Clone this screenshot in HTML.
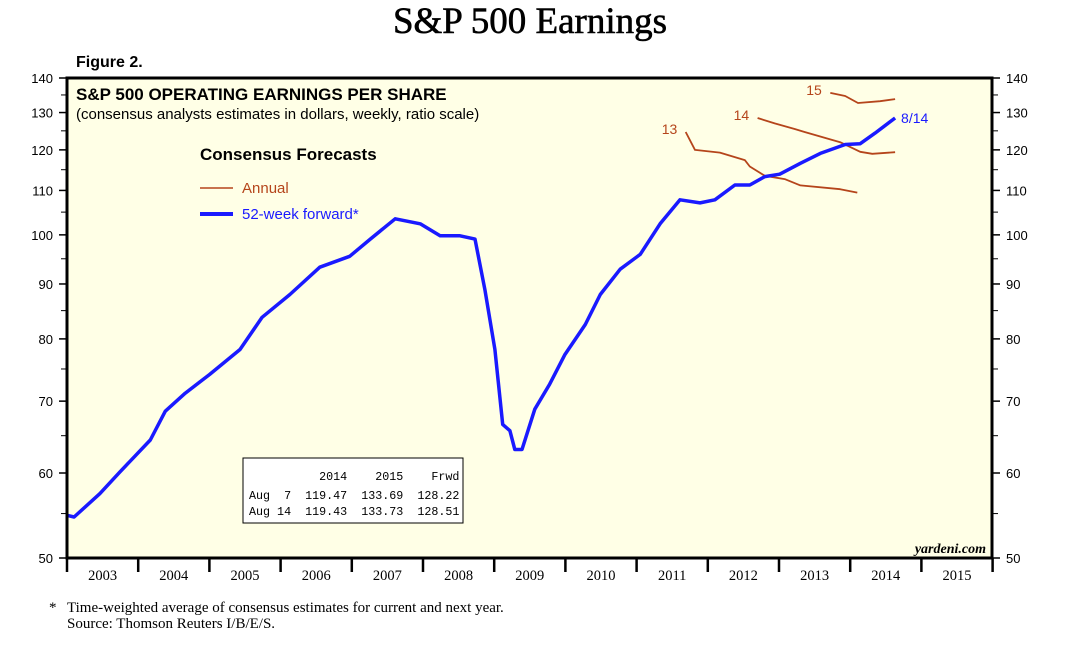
<!DOCTYPE html>
<html><head><meta charset="utf-8"><style>
body{margin:0;background:#fff;width:1073px;height:652px;overflow:hidden}
svg{display:block}
text{font-family:"Liberation Sans",sans-serif}
</style></head><body>
<svg id="chart" width="1073" height="652">
<text x="530" y="33" text-anchor="middle" font-size="37" style="font-family:'Liberation Serif',serif;stroke:#000;stroke-width:0.6">S&amp;P 500 Earnings</text>
<text x="76" y="67" font-size="16" font-weight="bold">Figure 2.</text>
<rect x="67" y="78" width="925" height="480" fill="#ffffe6"/>
<g id="axes"></g>
<g id="series"></g>
<rect x="67" y="78" width="925" height="480" fill="none" stroke="#000" stroke-width="3"/>
<text x="76" y="100" font-size="17" font-weight="bold">S&amp;P 500 OPERATING EARNINGS PER SHARE</text>
<text x="76" y="119" font-size="15">(consensus analysts estimates in dollars, weekly, ratio scale)</text>
<text x="200" y="160" font-size="17" font-weight="bold">Consensus Forecasts</text>
<line x1="200" y1="188" x2="233" y2="188" stroke="#b5451b" stroke-width="1.5"/>
<text x="242" y="193" font-size="15" fill="#b5451b">Annual</text>
<line x1="200" y1="214" x2="233" y2="214" stroke="#1a1aff" stroke-width="4"/>
<text x="242" y="219" font-size="15" fill="#1a1aff">52-week forward*</text>
<g font-size="11.7">
<rect x="243" y="458" width="220" height="65" fill="#fff" stroke="#000" stroke-width="1"/>
<text x="249" y="480" style="font-family:'Liberation Mono',monospace;white-space:pre" xml:space="preserve">          2014    2015    Frwd</text>
<text x="249" y="499" style="font-family:'Liberation Mono',monospace;white-space:pre" xml:space="preserve">Aug  7  119.47  133.69  128.22</text>
<text x="249" y="515" style="font-family:'Liberation Mono',monospace;white-space:pre" xml:space="preserve">Aug 14  119.43  133.73  128.51</text>
</g>
<text x="986" y="553" text-anchor="end" font-size="14" font-weight="bold" font-style="italic" style="font-family:'Liberation Serif',serif">yardeni.com</text>
<text x="49" y="612" font-size="15" style="font-family:'Liberation Serif',serif">*</text>
<text x="67" y="612" font-size="15" style="font-family:'Liberation Serif',serif">Time-weighted average of consensus estimates for current and next year.</text>
<text x="67" y="628" font-size="15" style="font-family:'Liberation Serif',serif">Source: Thomson Reuters I/B/E/S.</text>
</svg>
<script>
const yTicks=[50,60,70,80,90,100,110,120,130,140];
const yMinor=[55,65,75,85,95,105,115,125,135];
const years=[2003,2004,2005,2006,2007,2008,2009,2010,2011,2012,2013,2014,2015];
const fwdDates=[2003.0,2003.1,2003.46,2003.74,2004.17,2004.38,2004.66,2005.0,2005.43,2005.74,2006.13,2006.55,2006.97,2007.26,2007.61,2007.96,2008.24,2008.52,2008.73,2008.87,2009.01,2009.12,2009.22,2009.29,2009.39,2009.57,2009.78,2009.99,2010.28,2010.49,2010.77,2011.05,2011.33,2011.61,2011.89,2012.1,2012.38,2012.59,2012.8,2013.01,2013.3,2013.58,2013.93,2014.14,2014.35,2014.63];
const fwdValues=[54.8,54.6,57.4,60.1,64.4,68.5,71.2,74.1,78.2,83.8,88.0,93.3,95.5,99.1,103.5,102.4,99.8,99.8,99.1,88.9,78.2,66.6,65.7,63.1,63.1,68.8,72.6,77.3,82.5,88.0,92.9,95.9,102.4,107.8,107.1,107.8,111.3,111.3,113.3,113.9,116.6,119.1,121.4,121.6,124.4,128.5];
const a13Dates=[2011.69,2011.82,2012.17,2012.52,2012.59,2012.8,2013.08,2013.3,2013.86,2014.1];
const a13Values=[124.7,120.0,119.3,117.4,115.8,113.5,112.7,111.2,110.3,109.5];
const a14Dates=[2012.7,2012.94,2013.22,2013.36,2013.86,2014.14,2014.31,2014.63];
const a14Values=[128.5,127.0,125.5,124.7,122.0,119.5,119.0,119.4];
const a15Dates=[2013.72,2013.93,2014.11,2014.42,2014.63];
const a15Values=[135.6,134.7,132.7,133.2,133.8];
const X0=67,X1=992,Y0=78,Y1=558,YW=71.2;
const x=t=>X0+(t-2003)*YW;
const y=v=>Y0+Math.log(140/v)/Math.log(140/50)*(Y1-Y0);
const NS='http://www.w3.org/2000/svg';
const ax=document.getElementById('axes'),se=document.getElementById('series');
function mk(tag,attrs,parent){const e=document.createElementNS(NS,tag);for(const k in attrs)e.setAttribute(k,attrs[k]);parent.appendChild(e);return e;}
yTicks.forEach(v=>{
 const l=mk('line',{x1:X0-8,x2:X0,y1:y(v),y2:y(v),stroke:'#000','stroke-width':1.5},ax);
 
 
 const r=mk('line',{x1:X1,x2:X1+8,y1:y(v),y2:y(v),stroke:'#000','stroke-width':1.5},ax);
 
 
 const t=mk('text',{x:X0-14,y:y(v)+5,'text-anchor':'end','font-size':13},ax);t.textContent=v;
 
 
 const t2=mk('text',{x:X1+14,y:y(v)+5,'font-size':13},ax);t2.textContent=v;
 
 
});
yMinor.forEach(v=>{
 const l=mk('line',{x1:X0-6,x2:X0,y1:y(v),y2:y(v),stroke:'#000','stroke-width':1},ax);
 
 
 const r=mk('line',{x1:X1,x2:X1+6,y1:y(v),y2:y(v),stroke:'#000','stroke-width':1},ax);
 
 
});
years.forEach(yr=>{
 const l=mk('line',{x1:x(yr),x2:x(yr),y1:Y1,y2:Y1+14,stroke:'#000','stroke-width':2.5},ax);
 
 
 const t=mk('text',{x:x(yr+0.5),y:Y1+22,'text-anchor':'middle','font-size':14.5,style:"font-family:'Liberation Serif',serif"},ax);t.textContent=yr;
 
 
});
const lt=mk('line',{x1:x(2016),x2:x(2016),y1:Y1,y2:Y1+14,stroke:'#000','stroke-width':2.5},ax);


function path(d,v,col,w,name){
 const p=mk('path',{d:d.map((t,i)=>(i?'L':'M')+x(t).toFixed(1)+','+y(v[i]).toFixed(1)).join(''),fill:'none',stroke:col,'stroke-width':w,'stroke-linejoin':'round'},se);
 
 
}
path(a13Dates,a13Values,'#b5451b',1.8,'annual-2013-line');
path(a14Dates,a14Values,'#b5451b',1.8,'annual-2014-line');
path(a15Dates,a15Values,'#b5451b',1.8,'annual-2015-line');
path(fwdDates,fwdValues,'#1a1aff',3.5,'forward-earnings-line');
function lab(t,xx,yy,col,name){const e=mk('text',{x:xx,y:yy,'font-size':14,fill:col},se);e.textContent=t;
 
 }
lab('13',x(a13Dates[0])-24,y(a13Values[0])+2,'#b5451b','label-2013');
lab('14',x(a14Dates[0])-24,y(a14Values[0])+2,'#b5451b','label-2014');
lab('15',x(a15Dates[0])-24,y(a15Values[0])+2,'#b5451b','label-2015');
lab('8/14',x(fwdDates[fwdDates.length-1])+6,y(fwdValues[fwdValues.length-1])+5,'#1a1aff','label-latest-date');
</script>
</body></html>
